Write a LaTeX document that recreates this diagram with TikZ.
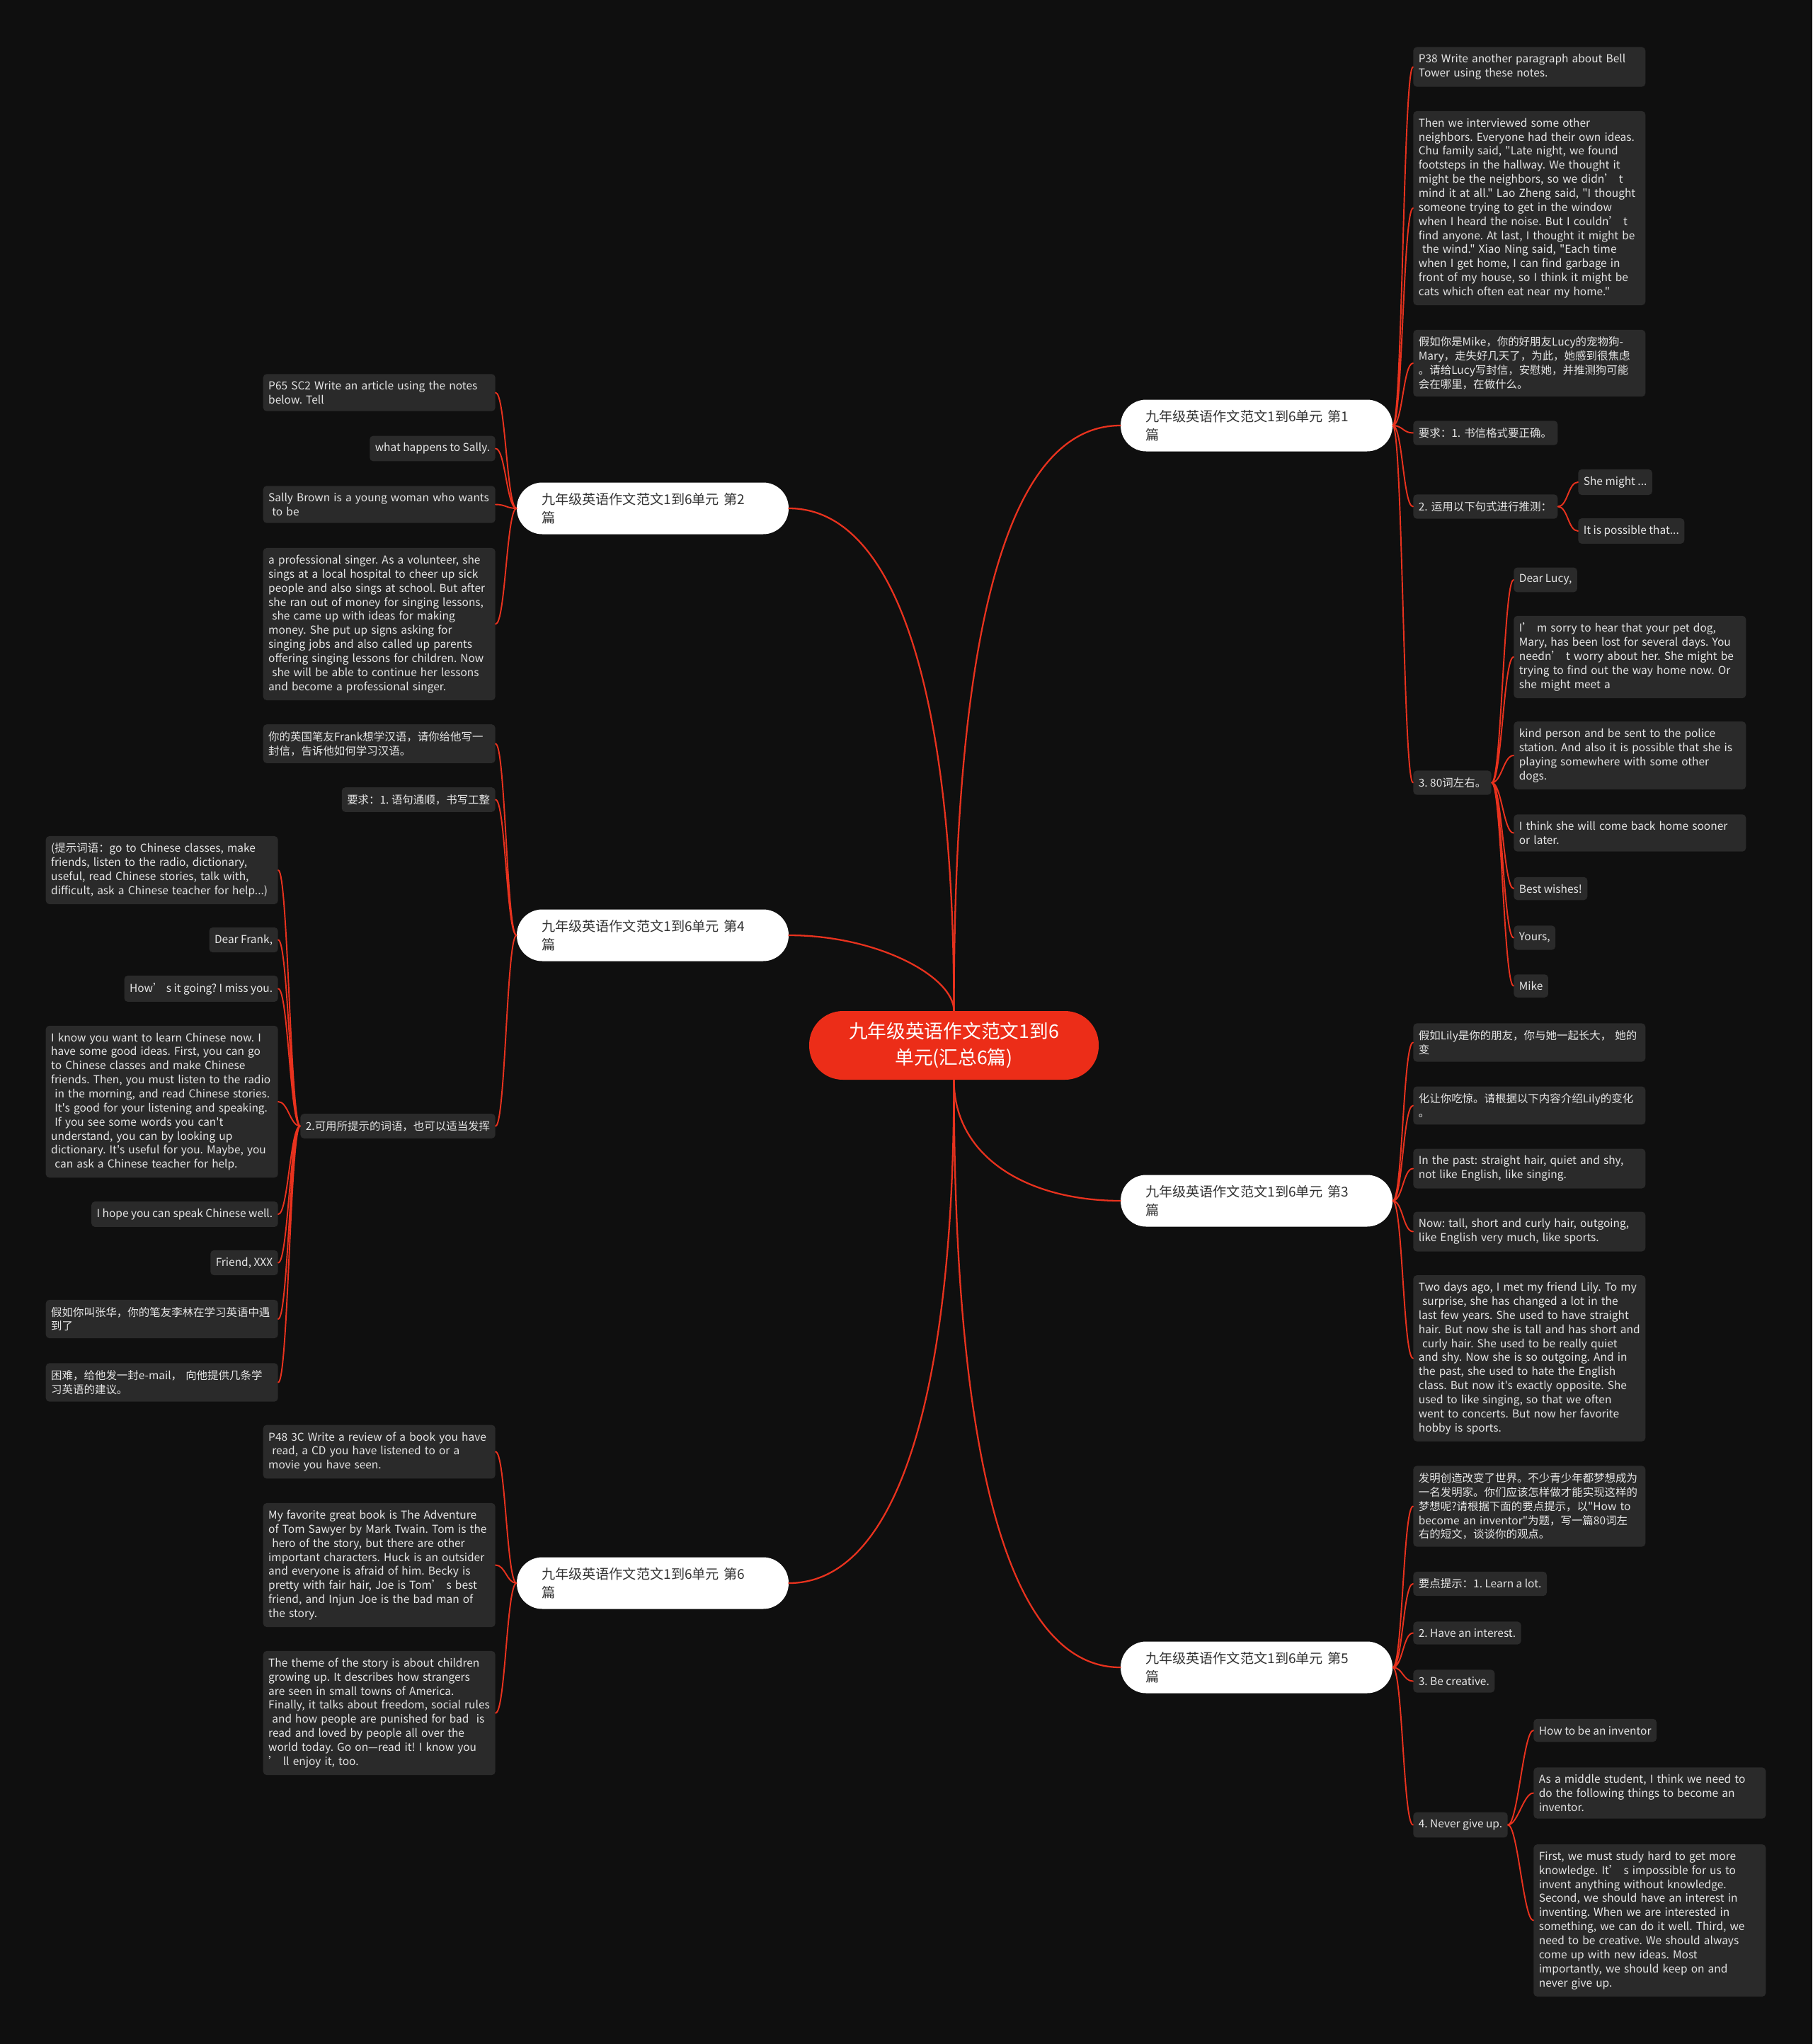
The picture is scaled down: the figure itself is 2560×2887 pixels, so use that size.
\documentclass[tikz,border=0pt]{standalone}
\usepackage{fontspec}
\setmainfont{Noto Sans CJK SC}[Ligatures=TeXOff]
\frenchspacing
\hyphenpenalty=10000
\exhyphenpenalty=10000
\definecolor{bgdark}{HTML}{0F0F0F}
\definecolor{leafgray}{HTML}{2A2A2A}
\definecolor{leaftext}{HTML}{E6E6E6}
\definecolor{mapred}{HTML}{E8321E}
\definecolor{rootred}{HTML}{EC2D18}
\definecolor{topictext}{HTML}{333333}
\tikzset{
  rootnode/.style={rectangle,rounded corners=0.95cm,fill=rootred,text=white,minimum width=8.18cm,minimum height=1.94cm,align=center,font=\fontsize{15.2}{20.8}\selectfont},
  topicnode/.style={rectangle,rounded corners=0.72cm,fill=white,text=topictext,text width=6.28cm,inner xsep=0.7cm,minimum height=1.46cm,align=left,font=\fontsize{10.9}{14.8}\selectfont},
  leafnode/.style={rectangle,rounded corners=0.1cm,fill=leafgray,text=leaftext,inner xsep=0.15cm,inner ysep=0.2cm,align=left,font=\fontsize{8.8}{11.3}\selectfont},
  wideleaf/.style={leafnode,text width=6.26cm},
  link/.style={draw=mapred,line width=1.1pt},
  rootlink/.style={draw=mapred,line width=1.3pt},
  every picture/.style={line cap=round,line join=round}
}

\begin{document}
\begin{tikzpicture}[x=0.02cm,y=-0.02cm]
  \fill[bgdark] (0,0) rectangle (2560,2887);
  \useasboundingbox (0,0) rectangle (2560,2887);

  % root and topics
  \node[rootnode] (root) at (1347.5,1476.5) {九年级英语作文范文1到6\\单元(汇总6篇)};
  \node[topicnode] (b1) at (1775,601) {九年级英语作文范文1到6单元 第1\\篇};
  \node[topicnode] (b2) at (922,718) {九年级英语作文范文1到6单元 第2\\篇};
  \node[topicnode] (b4) at (922,1321) {九年级英语作文范文1到6单元 第4\\篇};
  \node[topicnode] (b3) at (1775,1696) {九年级英语作文范文1到6单元 第3\\篇};
  \node[topicnode] (b6) at (922,2236) {九年级英语作文范文1到6单元 第6\\篇};
  \node[topicnode] (b5) at (1775,2355) {九年级英语作文范文1到6单元 第5\\篇};

  \draw[rootlink] (root.north) .. controls +(0,-528) and +(-163,0) .. (b1.west);
  \draw[rootlink] (root.north) .. controls +(0,-455) and +(150,0) .. (b2.east);
  \draw[rootlink] (root.north) .. controls +(0,-48) and +(126,0) .. (b4.east);
  \draw[rootlink] (root.south) .. controls +(0,110) and +(-130,0) .. (b3.west);
  \draw[rootlink] (root.south) .. controls +(0,455) and +(150,0) .. (b6.east);
  \draw[rootlink] (root.south) .. controls +(0,531) and +(-160,0) .. (b5.west);

  % topic 1
  \node[wideleaf,anchor=west] (r1a) at (1996,94.5) {P38 Write another paragraph about Bell\\Tower using these notes.};
  \node[wideleaf,anchor=west] (r1b) at (1996,294) {Then we interviewed some other\\neighbors. Everyone had their own ideas.\\Chu family said, "Late night, we found\\footsteps in the hallway. We thought it\\might be the neighbors, so we didn’ t\\mind it at all." Lao Zheng said, "I thought\\someone trying to get in the window\\when I heard the noise. But I couldn’ t\\find anyone. At last, I thought it might be\\\ the wind." Xiao Ning said, "Each time\\when I get home, I can find garbage in\\front of my house, so I think it might be\\cats which often eat near my home."};
  \node[wideleaf,anchor=west] (r1c) at (1996,513) {假如你是Mike，你的好朋友Lucy的宠物狗-\\Mary，走失好几天了，为此，她感到很焦虑\\。请给Lucy写封信，安慰她，并推测狗可能\\会在哪里，在做什么。};
  \node[leafnode,text width=3.78cm,anchor=west] (r1d) at (1996,611.5) {\mbox{要求：1. 书信格式要正确。}};
  \node[leafnode,text width=3.78cm,anchor=west] (r1e) at (1996,715.5) {\mbox{2. 运用以下句式进行推测：}};
  \node[leafnode,anchor=west] (r1e1) at (2229,681) {She might ...};
  \node[leafnode,anchor=west] (r1e2) at (2229,750) {It is possible that...};
  \node[leafnode,anchor=west] (r1f) at (1996,1105.5) {3. 80词左右。};
  \node[leafnode,anchor=west] (r1f1) at (2138,819) {Dear Lucy,};
  \node[wideleaf,anchor=west] (r1f2) at (2138,928) {I’ m sorry to hear that your pet dog,\\Mary, has been lost for several days. You\\needn’ t worry about her. She might be\\trying to find out the way home now. Or\\she might meet a};
  \node[wideleaf,anchor=west] (r1f3) at (2138,1067) {kind person and be sent to the police\\station. And also it is possible that she is\\playing somewhere with some other\\dogs.};
  \node[wideleaf,anchor=west] (r1f4) at (2138,1176.5) {I think she will come back home sooner\\or later.};
  \node[leafnode,anchor=west] (r1f5) at (2138,1255) {Best wishes!};
  \node[leafnode,anchor=west] (r1f6) at (2138,1324.5) {Yours,};
  \node[leafnode,anchor=west] (r1f7) at (2138,1392.5) {Mike};

  \draw[link] (b1.east) .. controls +(14,0) and +(-14,0) .. (r1a.west)
              (b1.east) .. controls +(14,0) and +(-14,0) .. (r1b.west)
              (b1.east) .. controls +(14,0) and +(-14,0) .. (r1c.west)
              (b1.east) .. controls +(14,0) and +(-14,0) .. (r1d.west)
              (b1.east) .. controls +(14,0) and +(-14,0) .. (r1e.west)
              (b1.east) .. controls +(14,0) and +(-14,0) .. (r1f.west);
  \draw[link] (r1e.east) .. controls +(14,0) and +(-14,0) .. (r1e1.west)
              (r1e.east) .. controls +(14,0) and +(-14,0) .. (r1e2.west);
  \draw[link] (r1f.east) .. controls +(14,0) and +(-14,0) .. (r1f1.west)
              (r1f.east) .. controls +(14,0) and +(-14,0) .. (r1f2.west)
              (r1f.east) .. controls +(14,0) and +(-14,0) .. (r1f3.west)
              (r1f.east) .. controls +(14,0) and +(-14,0) .. (r1f4.west)
              (r1f.east) .. controls +(14,0) and +(-14,0) .. (r1f5.west)
              (r1f.east) .. controls +(14,0) and +(-14,0) .. (r1f6.west)
              (r1f.east) .. controls +(14,0) and +(-14,0) .. (r1f7.west);

  % topic 3
  \node[wideleaf,anchor=west] (r3a) at (1996,1472.5) {假如Lily是你的朋友，你与她一起长大，\ 她的\\变};
  \node[wideleaf,anchor=west] (r3b) at (1996,1561.5) {化让你吃惊。请根据以下内容介绍Lily的变化\\。};
  \node[wideleaf,anchor=west] (r3c) at (1996,1650.5) {In the past: straight hair, quiet and shy,\\not like English, like singing.};
  \node[wideleaf,anchor=west] (r3d) at (1996,1739.5) {Now: tall, short and curly hair, outgoing,\\like English very much, like sports.};
  \node[wideleaf,anchor=west] (r3e) at (1996,1918.5) {Two days ago, I met my friend Lily. To my\\\ surprise, she has changed a lot in the\\last few years. She used to have straight\\\mbox{hair. But now she is tall and has short and}\\\ curly hair. She used to be really quiet\\and shy. Now she is so outgoing. And in\\the past, she used to hate the English\\class. But now it's exactly opposite. She\\used to like singing, so that we often\\went to concerts. But now her favorite\\hobby is sports.};

  \draw[link] (b3.east) .. controls +(14,0) and +(-14,0) .. (r3a.west)
              (b3.east) .. controls +(14,0) and +(-14,0) .. (r3b.west)
              (b3.east) .. controls +(14,0) and +(-14,0) .. (r3c.west)
              (b3.east) .. controls +(14,0) and +(-14,0) .. (r3d.west)
              (b3.east) .. controls +(14,0) and +(-14,0) .. (r3e.west);

  % topic 5
  \node[wideleaf,anchor=west] (r5a) at (1996,2127.5) {发明创造改变了世界。不少青少年都梦想成为\\一名发明家。你们应该怎样做才能实现这样的\\梦想呢?请根据下面的要点提示，以"How to\\become an inventor"为题，写一篇80词左\\右的短文，谈谈你的观点。};
  \node[leafnode,anchor=west] (r5b) at (1996,2237) {要点提示：1. Learn a lot.};
  \node[leafnode,anchor=west] (r5c) at (1996,2306.5) {2. Have an interest.};
  \node[leafnode,anchor=west] (r5d) at (1996,2374.5) {3. Be creative.};
  \node[leafnode,anchor=west] (r5e) at (1996,2577.5) {4. Never give up.};
  \node[leafnode,anchor=west] (r5e1) at (2166,2444) {How to be an inventor};
  \node[wideleaf,anchor=west] (r5e2) at (2166,2532.5) {As a middle student, I think we need to\\do the following things to become an\\inventor.};
  \node[wideleaf,anchor=west] (r5e3) at (2166,2712.5) {First, we must study hard to get more\\knowledge. It’ s impossible for us to\\invent anything without knowledge.\\Second, we should have an interest in\\inventing. When we are interested in\\something, we can do it well. Third, we\\need to be creative. We should always\\come up with new ideas. Most\\importantly, we should keep on and\\never give up.};

  \draw[link] (b5.east) .. controls +(14,0) and +(-14,0) .. (r5a.west)
              (b5.east) .. controls +(14,0) and +(-14,0) .. (r5b.west)
              (b5.east) .. controls +(14,0) and +(-14,0) .. (r5c.west)
              (b5.east) .. controls +(14,0) and +(-14,0) .. (r5d.west)
              (b5.east) .. controls +(14,0) and +(-14,0) .. (r5e.west);
  \draw[link] (r5e.east) .. controls +(14,0) and +(-14,0) .. (r5e1.west)
              (r5e.east) .. controls +(14,0) and +(-14,0) .. (r5e2.west)
              (r5e.east) .. controls +(14,0) and +(-14,0) .. (r5e3.west);

  % topic 2
  \node[wideleaf,anchor=east] (l2a) at (700,554.5) {P65 SC2 Write an article using the notes\\below. Tell};
  \node[leafnode,anchor=east] (l2b) at (700,633.5) {what happens to Sally.};
  \node[wideleaf,anchor=east] (l2c) at (700,712.5) {Sally Brown is a young woman who wants\\\ to be};
  \node[wideleaf,anchor=east] (l2d) at (700,881.5) {a professional singer. As a volunteer, she\\sings at a local hospital to cheer up sick\\people and also sings at school. But after\\she ran out of money for singing lessons,\\\ she came up with ideas for making\\money. She put up signs asking for\\singing jobs and also called up parents\\offering singing lessons for children. Now\\\ she will be able to continue her lessons\\and become a professional singer.};

  \draw[link] (b2.west) .. controls +(-14,0) and +(14,0) .. (l2a.east)
              (b2.west) .. controls +(-14,0) and +(14,0) .. (l2b.east)
              (b2.west) .. controls +(-14,0) and +(14,0) .. (l2c.east)
              (b2.west) .. controls +(-14,0) and +(14,0) .. (l2d.east);

  % topic 4
  \node[wideleaf,anchor=east] (l4a) at (700,1050.5) {你的英国笔友Frank想学汉语，请你给他写一\\封信，告诉他如何学习汉语。};
  \node[leafnode,anchor=east] (l4b) at (700,1129.5) {要求：1. 语句通顺，书写工整};
  \node[leafnode,anchor=east] (l4c) at (700,1590.5) {2.可用所提示的词语，也可以适当发挥};
  \node[wideleaf,anchor=east] (l4c1) at (393,1229) {(提示词语：go to Chinese classes, make\\friends, listen to the radio, dictionary,\\useful, read Chinese stories, talk with,\\difficult, ask a Chinese teacher for help...)};
  \node[leafnode,anchor=east] (l4c2) at (393,1327.5) {Dear Frank,};
  \node[leafnode,anchor=east] (l4c3) at (393,1396.5) {How’ s it going? I miss you.};
  \node[wideleaf,anchor=east] (l4c4) at (393,1556) {I know you want to learn Chinese now. I\\have some good ideas. First, you can go\\to Chinese classes and make Chinese\\\mbox{friends. Then, you must listen to the radio}\\\ in the morning, and read Chinese stories.\\\ It's good for your listening and speaking.\\\ If you see some words you can't\\understand, you can by looking up\\dictionary. It's useful for you. Maybe, you\\\ can ask a Chinese teacher for help.};
  \node[leafnode,anchor=east] (l4c5) at (393,1715) {I hope you can speak Chinese well.};
  \node[leafnode,anchor=east] (l4c6) at (393,1783.5) {Friend, XXX};
  \node[wideleaf,anchor=east] (l4c7) at (393,1863) {假如你叫张华，你的笔友李林在学习英语中遇\\到了};
  \node[wideleaf,anchor=east] (l4c8) at (393,1952.5) {困难，给他发一封e-mail，\ 向他提供几条学\\习英语的建议。};

  \draw[link] (b4.west) .. controls +(-14,0) and +(14,0) .. (l4a.east)
              (b4.west) .. controls +(-14,0) and +(14,0) .. (l4b.east)
              (b4.west) .. controls +(-14,0) and +(14,0) .. (l4c.east);
  \draw[link] (l4c.west) .. controls +(-14,0) and +(14,0) .. (l4c1.east)
              (l4c.west) .. controls +(-14,0) and +(14,0) .. (l4c2.east)
              (l4c.west) .. controls +(-14,0) and +(14,0) .. (l4c3.east)
              (l4c.west) .. controls +(-14,0) and +(14,0) .. (l4c4.east)
              (l4c.west) .. controls +(-14,0) and +(14,0) .. (l4c5.east)
              (l4c.west) .. controls +(-14,0) and +(14,0) .. (l4c6.east)
              (l4c.west) .. controls +(-14,0) and +(14,0) .. (l4c7.east)
              (l4c.west) .. controls +(-14,0) and +(14,0) .. (l4c8.east);

  % topic 6
  \node[wideleaf,anchor=east] (l6a) at (700,2050.5) {P48 3C Write a review of a book you have\\\ read, a CD you have listened to or a\\movie you have seen.};
  \node[wideleaf,anchor=east] (l6b) at (700,2210.5) {My favorite great book is The Adventure\\of Tom Sawyer by Mark Twain. Tom is the\\\ hero of the story, but there are other\\important characters. Huck is an outsider\\and everyone is afraid of him. Becky is\\pretty with fair hair, Joe is Tom’ s best\\friend, and Injun Joe is the bad man of\\the story.};
  \node[wideleaf,anchor=east] (l6c) at (700,2419.5) {The theme of the story is about children\\growing up. It describes how strangers\\are seen in small towns of America.\\\mbox{Finally, it talks about freedom, social rules}\\\ and how people are punished for bad\ \ is\\read and loved by people all over the\\world today. Go on—read it! I know you\\’ ll enjoy it, too.};

  \draw[link] (b6.west) .. controls +(-14,0) and +(14,0) .. (l6a.east)
              (b6.west) .. controls +(-14,0) and +(14,0) .. (l6b.east)
              (b6.west) .. controls +(-14,0) and +(14,0) .. (l6c.east);
\end{tikzpicture}
\end{document}
